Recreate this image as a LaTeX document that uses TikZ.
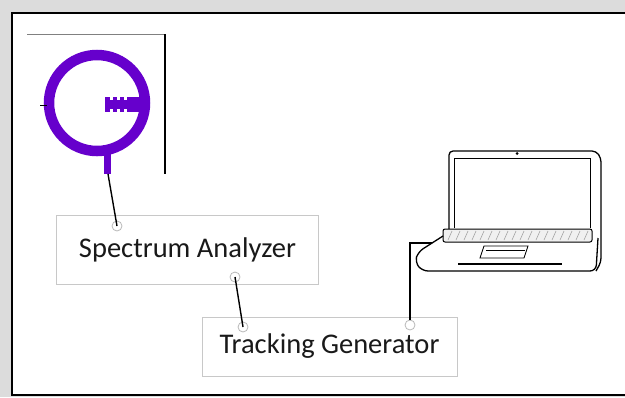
\documentclass[tikz,border=0pt]{standalone}
\usepackage{fontspec}
\setmainfont{Carlito}
\definecolor{loopviolet}{RGB}{102,0,204}
\definecolor{boxgray}{RGB}{200,200,200}
\definecolor{pagegray}{RGB}{220,220,220}
\tikzset{
  blockbox/.style={draw=boxgray, line width=1bp, inner sep=0pt,
    font=\fontsize{28.5bp}{34bp}\selectfont, text=black!90},
  port/.style={draw=gray!55, line width=0.8bp, circle, minimum size=10bp, inner sep=0pt},
  wire/.style={line width=1.4bp, black},
}

\begin{document}
\begin{tikzpicture}[x=1bp, y=-1bp]
        \useasboundingbox (0,0) rectangle (625,397);
        \clip (0,0) rectangle (625,397);
        \fill[pagegray] (0,0) rectangle (625,397);
        \fill[white] (12,13) rectangle (640,395);
        \draw[line width=1.8bp] (640,13) -- (12,13) -- (12,395) -- (640,395);

        % loop antenna
        \draw[gray, line width=1bp] (27,34) -- (165,34);
        \draw[line width=1.2bp] (165,34) -- (165,174);
        \draw[loopviolet, line width=10.5bp] (97,103) circle (48);
        \fill[loopviolet] (104,150) rectangle (111,174);
        \fill[loopviolet] (105,97) rectangle (141,112);
        \fill[white] (110,97) rectangle (113,100);
        \fill[white] (117,97) rectangle (120,100);
        \fill[white] (124,97) rectangle (127,100);
        \fill[white] (110,109) rectangle (113,112);
        \fill[white] (117,109) rectangle (120,112);
        \fill[white] (124,109) rectangle (127,112);
        \draw[line width=1bp] (40,105) -- (47,105);
        \coordinate (ant) at (108,174);

        % instruments
        \node[blockbox, minimum width=261bp, minimum height=69bp] (sa) at (187.5,249.5) {Spectrum Analyzer};
        \node[blockbox, minimum width=255bp, minimum height=59bp] (tg) at (329.5,346.5) {Tracking Generator};
        \node[port] (saT) at (117,226) {};
        \node[port] (saB) at (235,277) {};
        \node[port] (tgL) at (243,327) {};
        \node[port] (tgR) at (410,325) {};

        % laptop
        \draw[line width=1.3bp, rounded corners=4bp] (449,229) -- (449,151) -- (596,151) -- (601,158) -- (601,262) -- (596,271);
        \draw[line width=0.9bp] (454,228) -- (454,158) -- (590,158) -- (590,228);
        \fill (517,153.5) circle (1.5);
        \draw[line width=1bp, fill=gray!12, rounded corners=2bp] (443,229) rectangle (592,242);
        \foreach \k in {448,456,...,586}
          \draw[gray!70, line width=0.6bp] (\k,240) -- (\k+4,231);
        \draw[line width=1.3bp, rounded corners=6bp] (443,236) -- (418,252) -- (415,262) -- (422,271) -- (596,271) -- (598,238);
        \draw[line width=0.9bp] (484,246) -- (528,246) -- (524,258) -- (480,258) -- cycle;
        \draw[line width=0.7bp] (486,250) -- (525,250);
        \draw[line width=1.2bp] (458,264) -- (562,264);
        \coordinate (lan) at (432,243);

        % cabling
        \draw[wire] (ant) -- (saT.center);
        \draw[wire] (saB.center) -- (tgL.center);
        \draw[wire] (lan) -| (tgR.north);
    \end{tikzpicture}
\end{document}
